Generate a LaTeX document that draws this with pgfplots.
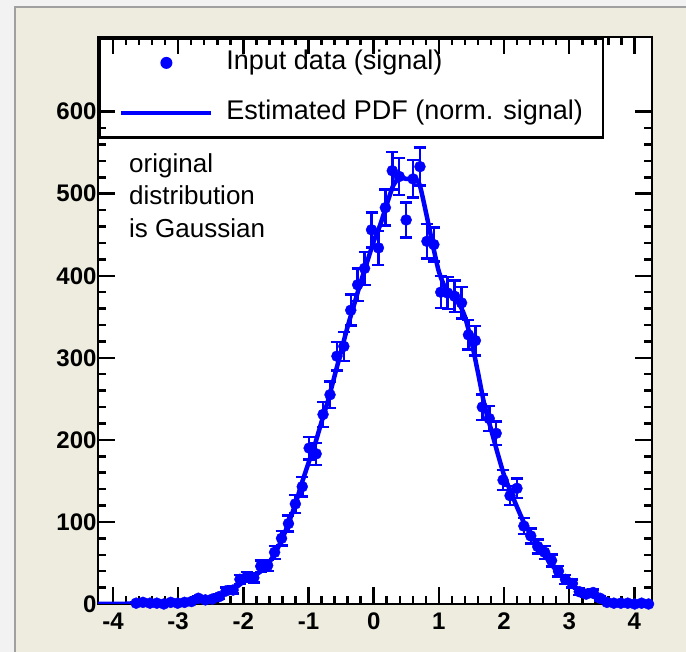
\documentclass[border=0pt]{standalone}
\usepackage{fontspec}
\setmainfont{Liberation Sans}
\usepackage{pgfplots}
\usepackage{pgfplotstable}
\pgfplotsset{compat=1.18}
\definecolor{rootbeige}{RGB}{237,236,223}
\definecolor{rootstrip}{RGB}{242,242,242}
\definecolor{rootborder}{RGB}{160,160,160}

\pgfplotstableread{
x y e
-3.645 1 1
-3.540 2 1.4
-3.433 1 1
-3.327 1 1
-3.220 0 0
-3.114 2 1.4
-3.008 1 1
-2.902 2 1.4
-2.795 3 1.7
-2.690 7 2.6
-2.583 5 2.2
-2.477 6 2.4
-2.370 9 3
-2.264 16 4
-2.158 17 4.1
-2.052 30 5.5
-1.946 33 5.7
-1.840 32 5.7
-1.733 46 6.8
-1.627 47 6.9
-1.520 63 7.9
-1.414 80 8.9
-1.308 98 9.9
-1.202 122 11
-1.096 143 12
-0.990 190 13.8
-0.883 183 13.5
-0.777 231 15.2
-0.670 255 16
-0.564 302 17.4
-0.458 314 17.7
-0.352 358 18.9
-0.246 389 19.7
-0.140 409 20.2
-0.033 456 21.4
0.073 434 20.8
0.179 483 22
0.285 528 23
0.392 521 22.8
0.498 468 21.6
0.604 518 22.8
0.710 533 23.1
0.817 442 21
0.923 438 20.9
1.029 380 19.5
1.135 379 19.5
1.242 375 19.4
1.348 367 19.2
1.454 328 18.1
1.560 321 17.9
1.667 240 15.5
1.773 226 15
1.879 208 14.4
1.985 151 12.3
2.092 132 11.5
2.198 141 11.9
2.304 95 9.7
2.410 83 9.1
2.517 70 8.4
2.623 63 7.9
2.729 53 7.3
2.835 40 6.3
2.942 30 5.5
3.048 25 5
3.154 15 3.9
3.260 12 3.5
3.367 14 3.7
3.473 7 2.6
3.579 2 1.4
3.685 1 1
3.792 1 1
3.898 1 1
4.004 0 0
4.110 1 1
4.217 0 0
}\datatable

\pgfplotstableread{
x y
-4.23 0
-3.8 0.3
-3.5 0.6
-3.3 1
-3.0 2
-2.8 3
-2.6 4.5
-2.5 6
-2.4 8
-2.3 11
-2.2 16
-2.1 21
-2.0 27
-1.9 32
-1.8 36
-1.7 42
-1.6 51
-1.5 64
-1.4 80
-1.3 100
-1.2 122
-1.1 148
-1.0 172
-0.9 195
-0.8 222
-0.7 248
-0.6 278
-0.5 308
-0.4 338
-0.3 365
-0.2 392
-0.1 417
0.0 442
0.1 462
0.2 487
0.3 510
0.4 520
0.5 518
0.6 518
0.7 512
0.8 478
0.9 440
1.0 405
1.1 385
1.2 378
1.3 368
1.4 350
1.5 320
1.6 282
1.7 242
1.8 213
1.9 184
2.0 157
2.1 137
2.2 118
2.3 100
2.4 86
2.5 73
2.6 62
2.7 51
2.8 41
2.9 33
3.0 25
3.1 19
3.2 14
3.3 11
3.4 8
3.5 5
3.6 2.5
3.8 1
4.0 0.5
4.27 0.3
}\pdftable

\begin{document}
\begin{tikzpicture}[x=1pt,y=1pt]
\useasboundingbox (0,0) rectangle (686,652);
\fill[rootstrip] (0,0) rectangle (686,652);
\fill[rootbeige] (15,0) rectangle (686,645);
\draw[rootborder, line width=1.5pt] (15,0) -- (15,645) -- (686,645);
\begin{axis}[
  scale only axis,
  width=554pt, height=567pt,
  at={(98pt,48pt)}, anchor=south west,
  xmin=-4.23, xmax=4.27, ymin=0, ymax=691,
  axis background/.style={fill=white},
  axis line style={line width=2.8pt, black},
  tick align=inside,
  xtick={-4,-3,-2,-1,0,1,2,3,4},
  xticklabels={-4,-3,-2,-1,0,1,2,3,4},
  ytick={0,100,200,300,400,500,600},
  yticklabels={0,100,200,300,400,500,600},
  minor x tick num=4, minor y tick num=4,
  major tick length=17pt, minor tick length=8pt,
  every tick/.style={black, line width=2.5pt},
  tick label style={font=\fontsize{24}{28}\selectfont\bfseries},
  xticklabel style={yshift=-5pt},
  yticklabel style={xshift=2pt},
  legend style={at={(0,1)}, anchor=north west, draw=black, line width=2.8pt,
    fill=none, inner xsep=20pt, inner ysep=11.5pt,
    font=\fontsize{27}{32}\selectfont,
    nodes={inner sep=0pt, text height=20pt, text depth=6pt},
    column sep=13pt, row sep=24pt},
  legend cell align=left,
]
\addplot[blue, only marks, mark=*, mark size=5.5pt,
  legend image code/.code={\path[draw=none, fill=none] (0pt,0pt) -- (90pt,0pt); \fill[blue, draw=none] (45pt,0pt) circle (6pt);},
  error bars/.cd, y dir=both, y explicit,
  error bar style={line width=2.5pt, blue},
  error mark options={rotate=90, mark size=6pt, line width=2.5pt, blue}]
  table[x=x, y=y, y error=e] {\datatable};
\addlegendentry{Input data (signal)}
\addplot[blue, line width=4.5pt, smooth, tension=0.4, no marks,
  legend image code/.code={\draw[blue, line width=4pt] (0pt,0pt) -- (90pt,0pt);}]
  table[x=x, y=y] {\pdftable};
\addlegendentry{Estimated PDF (norm. signal)}
\node[anchor=north west, align=left, inner sep=0pt,
  font=\fontsize{26}{32.5}\selectfont] at (rel axis cs:0.056,0.795)
  {original\\distribution\\is Gaussian};
\end{axis}
\end{tikzpicture}
\end{document}
